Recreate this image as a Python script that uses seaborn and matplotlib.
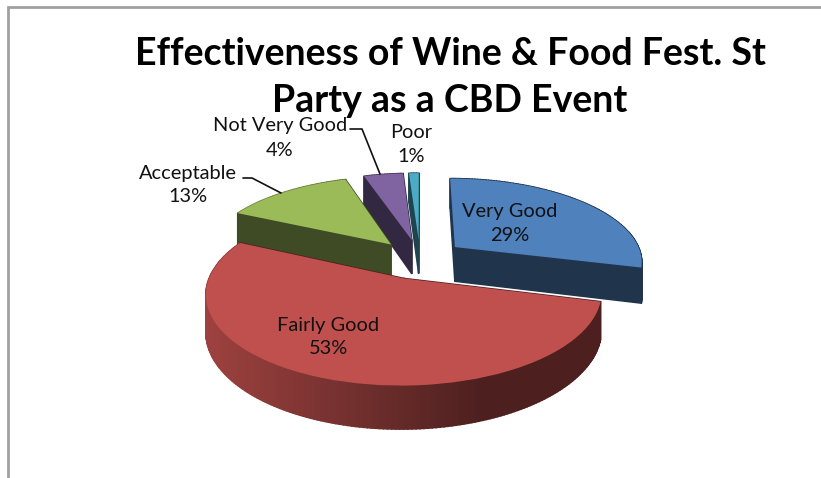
import numpy as np
import matplotlib
matplotlib.use("Agg")
import matplotlib.pyplot as plt
import seaborn as sns
from matplotlib.patches import Polygon
from matplotlib.transforms import Transform

categories = ["Very Good", "Fairly Good", "Acceptable", "Not Very Good", "Poor"]
values = [29, 53, 13, 4, 1]
top_colors = ["#4F81BD", "#C0504D", "#9BBB59", "#8064A2", "#4BACC6"]
title_lines = "Effectiveness of Wine & Food Fest. St\nParty as a CBD Event"

EXPLODE = 0.24
CX, CY, RX, RY, PERSP, DEPTH = 420, 259, 188, 83, 0.16, 35

sns.set_theme(style="white")
plt.rcParams["font.family"] = ["Lato", "DejaVu Sans"]


class Tilt(Transform):
    """Perspective view of the flat pie plane, dropped by `drop` pixels."""
    input_dims = output_dims = 2

    def __init__(self, drop=0.0):
        super().__init__()
        self.drop = drop

    def transform_non_affine(self, values):
        v = np.asarray(values, float)
        s = 1 / (1 + PERSP * v[:, 1])
        return np.column_stack([CX + RX * v[:, 0] * s,
                                CY - RY * v[:, 1] * s + self.drop * s])


def shade(color, f):
    return tuple(c * f for c in matplotlib.colors.to_rgb(color))


fig = plt.figure(figsize=(8.21, 4.78), dpi=100)
ax = fig.add_axes([0, 0, 1, 1])
wedges, _ = ax.pie(values, explode=[EXPLODE] * len(values), colors=sns.color_palette(top_colors),
                   startangle=90, counterclock=False, wedgeprops=dict(linewidth=0))
ax.set_aspect("auto")
ax.set_xlim(0, 821)
ax.set_ylim(478, 0)
ax.axis("off")

top = Tilt(0)
low = Tilt(DEPTH)
order = sorted(range(len(values)), key=lambda i: -wedges[i].center[1])
z = 2
for i in order:
    w = wedges[i]
    c = np.array(w.center)
    th = np.radians(np.linspace(w.theta1, w.theta2, max(3, int(w.theta2 - w.theta1) + 2)))
    rim = c + w.r * np.column_stack([np.cos(th), np.sin(th)])
    faces = [np.array([c, rim[0]]), np.array([c, rim[-1]])]
    faces += [rim[j:j + 2] for j in range(len(rim) - 1)]
    radial = {0, 1}
    ranked = sorted(range(len(faces)), key=lambda k: -faces[k][:, 1].mean())
    for k in ranked:
        a = top.transform(faces[k])
        b = low.transform(faces[k])
        quad = np.vstack([a, b[::-1]])
        if k in radial:
            f = 0.4
        else:
            f = np.interp(quad[:, 0].mean(), [207, 480], [0.82, 0.4])
        col = shade(top_colors[i], f)
        ax.add_patch(Polygon(quad, closed=True, facecolor=col, edgecolor=col, linewidth=1.1, zorder=z))
        z += 1
    w.set_transform(top + ax.transData)
    w.set_zorder(z)
    z += 1

# chart frame
ax.plot([8, 8, 821], [478, 7, 7], color="#A0A0A0", lw=2, zorder=1, solid_joinstyle="miter")

# title
ax.text(450, 77.5, title_lines, ha="center", va="center", fontsize=27, fontweight="bold",
        color="black", linespacing=1.45, zorder=500)

# labels and leader lines
label_pos = {"Very Good": (510, 223), "Fairly Good": (328, 337), "Acceptable": (188, 185),
             "Not Very Good": (280, 138), "Poor": (411, 145)}
for name, v in zip(categories, values):
    x, y = label_pos[name]
    ax.text(x, y, f"{name}\n{v}%", ha="center", va="center", fontsize=14.4, color="#111111",
            linespacing=1.5, zorder=500)
ax.plot([243, 252, 281], [178, 178, 193], color="#111111", lw=1.2, zorder=500)
ax.plot([350, 362, 380], [129, 129, 174], color="#111111", lw=1.2, zorder=500)

fig.savefig("out.png", dpi=100, facecolor="white")
